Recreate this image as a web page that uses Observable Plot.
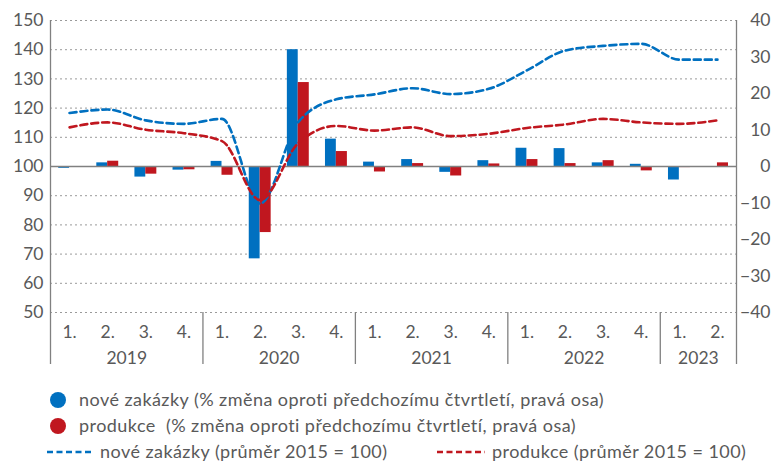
<!DOCTYPE html>
<html>
<head>
<meta charset="utf-8">
<script src="https://cdn.jsdelivr.net/npm/d3@7"></script>
<script src="https://cdn.jsdelivr.net/npm/@observablehq/plot@0.6"></script>
<style>
  body { margin: 0; background: #fff; font-family: Lato, "Open Sans", sans-serif; color: #595959; }
  #wrap { position: relative; width: 782px; height: 464px; }
  #legend { position: absolute; left: 0; top: 0; width: 782px; height: 464px; pointer-events: none; }
  .li { position: absolute; font-size: 18px; letter-spacing: 0.45px; line-height: 22px; white-space: pre; color: #595959; }
  .dot { position: absolute; width: 16px; height: 16px; border-radius: 50%; }
</style>
</head>
<body>
<div id="wrap"><div id="chart"></div><div id="legend"></div></div>
<script>
// ---- data ----
const quarters = ["1.","2.","3.","4.","1.","2.","3.","4.","1.","2.","3.","4.","1.","2.","3.","4.","1.","2."];
const years = ["2019","2020","2021","2022","2023"];
const yearQuarterCounts = [4,4,4,4,2];
// % change vs previous quarter (right axis)
const ordersChange = [-0.5, 1.0, -2.9, -1.0, 1.4, -25.3, 32.0, 7.5, 1.2, 1.9, -1.6, 1.6, 5.0, 4.9, 1.0, 0.6, -3.7, 0.0];
const productionChange = [-0.2, 1.45, -2.1, -0.9, -2.4, -18.1, 23.0, 4.1, -1.5, 0.8, -2.6, 0.7, 1.9, 0.8, 1.6, -1.2, -0.3, 1.0];
// index, average 2015 = 100 (left axis)
const ordersIndex = [118.3, 119.5, 115.8, 114.6, 116.3, 87.3, 115.2, 123.0, 124.7, 126.8, 124.8, 126.6, 132.9, 139.7, 141.3, 142.0, 136.6, 136.6];
const productionIndex = [113.4, 115.1, 112.6, 111.4, 108.7, 88.5, 108.0, 113.9, 112.3, 113.4, 110.4, 111.2, 113.2, 114.4, 116.3, 115.1, 114.6, 115.8];
const leftTicks = [50, 60, 70, 80, 90, 100, 110, 120, 130, 140, 150];
const rightTicks = [-40, -30, -20, -10, 0, 10, 20, 30, 40];
const legendLabels = [
  "nové zakázky (% změna oproti předchozímu čtvrtletí, pravá osa)",
  "produkce  (% změna oproti předchozímu čtvrtletí, pravá osa)",
  "nové zakázky (průměr 2015 = 100)",
  "produkce (průměr 2015 = 100)"
];

const BLUE = "#0070c0", RED = "#c0171f", GREY = "#808080", TXT = "#595959";
// right axis maps to left: left = 100 + right * 1.25
const toLeft = r => 100 + r * 1.25;
const fmtSigned = v => { const n = Math.round(v); return n < 0 ? "\u2212" + Math.abs(n) : String(n); };

const rows = quarters.map((q, i) => ({
  i, q,
  oc: ordersChange[i], pc: productionChange[i],
  oi: ordersIndex[i], pi: productionIndex[i]
}));

// year boundaries and centers
let acc = 0; const bounds = [0]; const yearCenters = [];
yearQuarterCounts.forEach(c => { yearCenters.push(acc + c / 2); acc += c; bounds.push(acc); });

const font = "Lato, 'Open Sans', sans-serif";

const chart = Plot.plot({
  width: 782,
  height: 372,
  marginLeft: 50,
  marginRight: 46,
  marginTop: 20,
  marginBottom: 60,
  style: { fontFamily: font, fontSize: "17px", color: TXT, background: "#fff" },
  x: { type: "linear", domain: [0, quarters.length], axis: null },
  y: { domain: [50, 150], axis: null },
  marks: [
    Plot.gridY(leftTicks, { stroke: "#9a9a9a", strokeOpacity: 1, strokeDasharray: "2,3", strokeWidth: 1 }),
    Plot.rectY(rows, { x1: d => d.i + 0.215, x2: d => d.i + 0.5, y1: 100, y2: d => toLeft(d.oc), fill: BLUE }),
    Plot.rectY(rows, { x1: d => d.i + 0.5, x2: d => d.i + 0.79, y1: 100, y2: d => toLeft(d.pc), fill: RED }),
    Plot.ruleY([100], { stroke: GREY, strokeWidth: 1.6 }),
    Plot.ruleX([0, quarters.length], { stroke: GREY, strokeWidth: 1.3 }),
    Plot.lineY(rows, { x: d => d.i + 0.5, y: "oi", stroke: BLUE, strokeWidth: 2.6, strokeDasharray: "7,4", curve: "monotone-x" }),
    Plot.lineY(rows, { x: d => d.i + 0.5, y: "pi", stroke: RED, strokeWidth: 2.6, strokeDasharray: "7,4", curve: "monotone-x" }),
    // left axis labels
    Plot.axisY(leftTicks, { anchor: "left", tickSize: 0, tickPadding: 7, fill: TXT, fontSize: 17.5 }),
    // right axis labels
    Plot.axisY(rightTicks.map(toLeft), { anchor: "right", tickSize: 0, tickPadding: 3, textAnchor: "end", dx: 31, tickFormat: v => fmtSigned((v - 100) * 0.8), fill: TXT, fontSize: 17.5 }),
    // quarter labels
    Plot.axisX(rows.map(d => d.i + 0.5), { anchor: "bottom", tickSize: 0, tickPadding: 13, tickFormat: (v) => quarters[Math.floor(v)], fill: TXT, fontSize: 17.5 }),
    // year labels
    Plot.axisX(yearCenters, { anchor: "bottom", tickSize: 0, tickPadding: 39, tickFormat: (v) => years[yearCenters.indexOf(v)], fill: TXT, fontSize: 17.5 }),
    // year separators
    Plot.axisX(bounds, { anchor: "bottom", tickSize: 52, tickFormat: () => "", stroke: GREY, strokeWidth: 1.3 })
  ]
});
document.getElementById("chart").appendChild(chart);

// legend
const lg = document.getElementById("legend");
function addText(txt, x, cy) {
  const el = document.createElement("div");
  el.className = "li"; el.textContent = txt;
  el.style.left = x + "px"; el.style.top = (cy - 12) + "px";
  lg.appendChild(el);
}
function addDot(color, cx, cy) {
  const el = document.createElement("div");
  el.className = "dot"; el.style.background = color;
  el.style.left = (cx - 8) + "px"; el.style.top = (cy - 8) + "px";
  lg.appendChild(el);
}
function addDash(color, x1, x2, cy) {
  const ns = "http://www.w3.org/2000/svg";
  const s = document.createElementNS(ns, "svg");
  s.setAttribute("width", x2 - x1); s.setAttribute("height", 6);
  s.style.position = "absolute"; s.style.left = x1 + "px"; s.style.top = (cy - 3) + "px";
  const l = document.createElementNS(ns, "line");
  l.setAttribute("x1", 0); l.setAttribute("x2", x2 - x1); l.setAttribute("y1", 3); l.setAttribute("y2", 3);
  l.setAttribute("stroke", color); l.setAttribute("stroke-width", 2.6); l.setAttribute("stroke-dasharray", "6,3.5");
  s.appendChild(l); lg.appendChild(s);
}
addDot(BLUE, 58, 400); addText(legendLabels[0], 79, 400);
addDot(RED, 58, 426); addText(legendLabels[1], 79, 426);
addDash(BLUE, 47, 93, 452); addText(legendLabels[2], 100, 452);
addDash(RED, 437, 485, 452); addText(legendLabels[3], 492, 452);
</script>
</body>
</html>
